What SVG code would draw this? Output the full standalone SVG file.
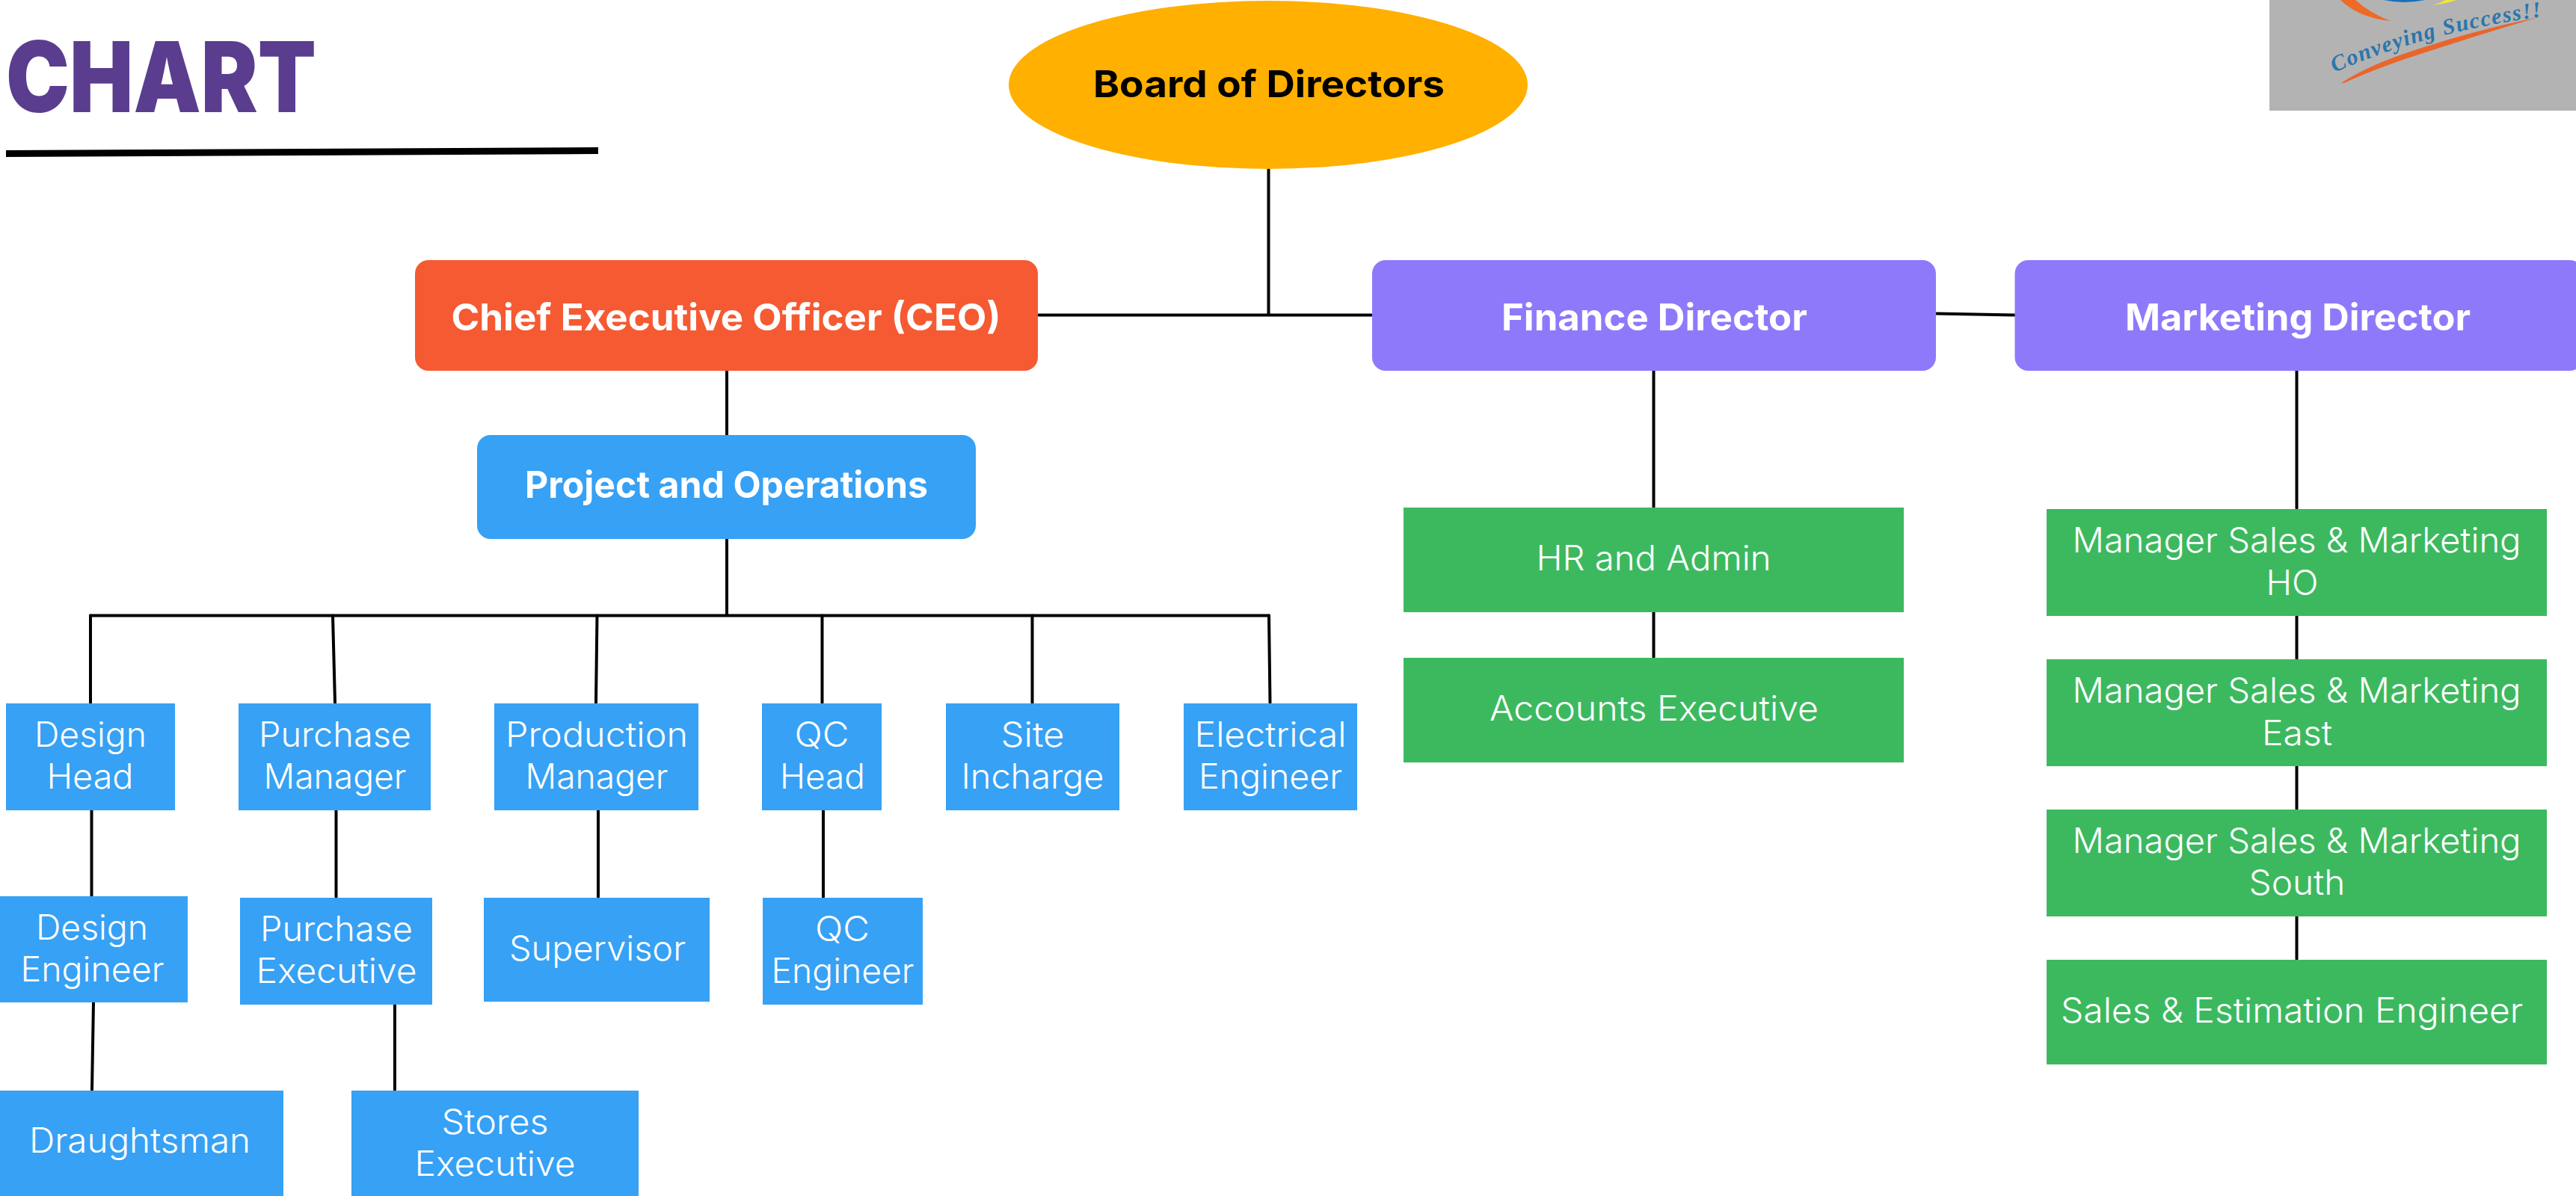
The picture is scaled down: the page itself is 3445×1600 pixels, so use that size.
<svg xmlns="http://www.w3.org/2000/svg" width="3445" height="1600" viewBox="0 0 3445 1600">
<defs>
<style>
text{font-family:"Inter","Noto Sans","Liberation Sans",sans-serif;text-anchor:middle;fill:#fff;font-size:46px;font-weight:300}
text.b{font-size:50px;font-weight:700}
text.d{fill:#000}
.blue{fill:#36a1f5}.green{fill:#3cb95f}.purple{fill:#8f79fb}.orange{fill:#f55a32}
#connectors line{stroke:#000;stroke-width:4;stroke-linecap:round}
</style>
</defs>
<rect width="3445" height="1600" fill="#fff"/>
<g id="title">
<text x="215.500" y="150" textLength="415" lengthAdjust="spacingAndGlyphs" style="font-weight:900;font-size:131px;fill:#5a3d8f">CHART</text>
<path d="M8 201 L800 197 L800 206 L8 210 Z" fill="#000"/>
</g>
<g id="logo">
<rect x="3035" y="0" width="410" height="148" fill="#b3b3b3"/>
<path d="M3130 0 Q3155 24 3197 28 Q3170 18 3150 0Z" fill="#ee6a26"/>
<path d="M3188 0 Q3215 6 3243 0Z" fill="#1a6fb8"/>
<path d="M3252 7 Q3272 5 3285 0 L3270 0 Q3262 5 3252 7Z" fill="#f2e53a"/>
<path d="M3131 111 Q3170 85 3245 62 Q3320 38 3395 23 Q3320 45 3250 68 Q3180 90 3135 111Z" fill="#e9652b"/>
<path id="tag" d="M3122 97 Q3240 44 3400 22" fill="none"/>
<text style="font-family:'Liberation Serif',serif;font-style:italic;font-weight:700;font-size:30px;letter-spacing:1.600px;fill:#2a76ad;text-anchor:start"><textPath href="#tag">Conveying Success!!</textPath></text>
</g>
<g id="connectors">
<line x1="1696.500" y1="226" x2="1696.500" y2="421"/>
<line x1="1389" y1="421.500" x2="1834" y2="421.500"/>
<line x1="2590" y1="419.500" x2="2694" y2="421.500"/>
<line x1="972" y1="496" x2="972" y2="582"/>
<line x1="972" y1="721" x2="972" y2="823"/>
<line x1="121" y1="823.500" x2="1697" y2="823.500"/>
<line x1="121" y1="823.500" x2="121" y2="940"/>
<line x1="445" y1="823.500" x2="448" y2="940"/>
<line x1="798.500" y1="823.500" x2="797" y2="940"/>
<line x1="1099.500" y1="823.500" x2="1099.500" y2="940"/>
<line x1="1380.500" y1="823.500" x2="1380.500" y2="940"/>
<line x1="1697" y1="823.500" x2="1698.500" y2="940"/>
<line x1="122.500" y1="1084" x2="122.500" y2="1199"/>
<line x1="449.500" y1="1084" x2="449.500" y2="1200"/>
<line x1="800" y1="1084" x2="800" y2="1200"/>
<line x1="1101" y1="1084" x2="1101" y2="1200"/>
<line x1="125" y1="1341" x2="123" y2="1458"/>
<line x1="528" y1="1342" x2="528" y2="1458"/>
<line x1="2211.500" y1="496" x2="2211.500" y2="678"/>
<line x1="2211.500" y1="819" x2="2211.500" y2="879"/>
<line x1="3071.500" y1="496" x2="3071.500" y2="680"/>
<line x1="3071.500" y1="824" x2="3071.500" y2="881"/>
<line x1="3071.500" y1="1025" x2="3071.500" y2="1082"/>
<line x1="3071.500" y1="1226" x2="3071.500" y2="1283"/>
</g>
<g id="board"><ellipse cx="1696" cy="113.500" rx="347" ry="112.500" fill="#ffb000"/><text class="b d" x="1697" y="129.500" textLength="470" lengthAdjust="spacingAndGlyphs">Board of Directors</text></g>
<g id="ceo"><rect class="orange" x="555" y="348" width="833" height="148" rx="18"/><text class="b" x="971" y="441.500" textLength="735" lengthAdjust="spacingAndGlyphs">Chief Executive Officer (CEO)</text></g>
<g id="finance"><rect class="purple" x="1835" y="348" width="754" height="148" rx="18"/><text class="b" x="2212.500" y="441.500" textLength="409" lengthAdjust="spacingAndGlyphs">Finance Director</text></g>
<g id="marketing"><rect class="purple" x="2694.500" y="348" width="760" height="148" rx="18"/><text class="b" x="3073" y="441.500" textLength="462" lengthAdjust="spacingAndGlyphs">Marketing Director</text></g>
<g id="project"><rect class="blue" x="638" y="582" width="667" height="139" rx="18"/><text class="b" x="971.500" y="665.500" textLength="539" lengthAdjust="spacingAndGlyphs">Project and Operations</text></g>
<g id="design-head"><rect class="blue" x="8" y="941" width="226" height="143"/><text x="121" y="999" textLength="150" lengthAdjust="spacingAndGlyphs">Design</text><text x="120.500" y="1055" textLength="116" lengthAdjust="spacingAndGlyphs">Head</text></g>
<g id="purchase-manager"><rect class="blue" x="319" y="941" width="257" height="143"/><text x="448" y="999" textLength="204" lengthAdjust="spacingAndGlyphs">Purchase</text><text x="448" y="1055" textLength="191" lengthAdjust="spacingAndGlyphs">Manager</text></g>
<g id="production-manager"><rect class="blue" x="661" y="941" width="273" height="143"/><text x="798" y="999" textLength="244" lengthAdjust="spacingAndGlyphs">Production</text><text x="798" y="1055" textLength="191" lengthAdjust="spacingAndGlyphs">Manager</text></g>
<g id="qc-head"><rect class="blue" x="1019" y="941" width="160" height="143"/><text x="1099" y="999" textLength="73" lengthAdjust="spacingAndGlyphs">QC</text><text x="1100" y="1055" textLength="114" lengthAdjust="spacingAndGlyphs">Head</text></g>
<g id="site-incharge"><rect class="blue" x="1265" y="941" width="232" height="143"/><text x="1381" y="999" textLength="85" lengthAdjust="spacingAndGlyphs">Site</text><text x="1381" y="1055" textLength="191" lengthAdjust="spacingAndGlyphs">Incharge</text></g>
<g id="electrical-engineer"><rect class="blue" x="1583" y="941" width="232" height="143"/><text x="1699" y="999" textLength="203" lengthAdjust="spacingAndGlyphs">Electrical</text><text x="1699" y="1055" textLength="192" lengthAdjust="spacingAndGlyphs">Engineer</text></g>
<g id="design-engineer"><rect class="blue" x="0" y="1199" width="251" height="142"/><text x="123" y="1257" textLength="150" lengthAdjust="spacingAndGlyphs">Design</text><text x="123.500" y="1313" textLength="192" lengthAdjust="spacingAndGlyphs">Engineer</text></g>
<g id="purchase-executive"><rect class="blue" x="321" y="1201" width="257" height="143"/><text x="450" y="1259" textLength="204" lengthAdjust="spacingAndGlyphs">Purchase</text><text x="450" y="1315" textLength="215" lengthAdjust="spacingAndGlyphs">Executive</text></g>
<g id="supervisor"><rect class="blue" x="647" y="1201" width="302" height="139"/><text x="799" y="1285" textLength="236" lengthAdjust="spacingAndGlyphs">Supervisor</text></g>
<g id="qc-engineer"><rect class="blue" x="1020" y="1201" width="214" height="143"/><text x="1126.500" y="1259" textLength="73" lengthAdjust="spacingAndGlyphs">QC</text><text x="1127" y="1315" textLength="191" lengthAdjust="spacingAndGlyphs">Engineer</text></g>
<g id="draughtsman"><rect class="blue" x="0" y="1459" width="379" height="141"/><text x="187" y="1542" textLength="296" lengthAdjust="spacingAndGlyphs">Draughtsman</text></g>
<g id="stores-executive"><rect class="blue" x="470" y="1459" width="384" height="141"/><text x="662" y="1517" textLength="143" lengthAdjust="spacingAndGlyphs">Stores</text><text x="662" y="1573" textLength="215" lengthAdjust="spacingAndGlyphs">Executive</text></g>
<g id="hr-admin"><rect class="green" x="1877" y="679" width="669" height="140"/><text x="2211.500" y="763" textLength="314" lengthAdjust="spacingAndGlyphs">HR and Admin</text></g>
<g id="accounts-executive"><rect class="green" x="1877" y="880" width="669" height="140"/><text x="2212" y="964" textLength="440" lengthAdjust="spacingAndGlyphs">Accounts Executive</text></g>
<g id="msm-ho"><rect class="green" x="2737" y="681" width="669" height="143"/><text x="3071.500" y="739" textLength="600" lengthAdjust="spacingAndGlyphs">Manager Sales &amp; Marketing</text><text x="3065.500" y="795.500" textLength="70" lengthAdjust="spacingAndGlyphs">HO</text></g>
<g id="msm-east"><rect class="green" x="2737" y="882" width="669" height="143"/><text x="3071.500" y="940" textLength="600" lengthAdjust="spacingAndGlyphs">Manager Sales &amp; Marketing</text><text x="3072" y="996.500" textLength="94" lengthAdjust="spacingAndGlyphs">East</text></g>
<g id="msm-south"><rect class="green" x="2737" y="1083" width="669" height="143"/><text x="3071.500" y="1141" textLength="600" lengthAdjust="spacingAndGlyphs">Manager Sales &amp; Marketing</text><text x="3072" y="1197" textLength="129" lengthAdjust="spacingAndGlyphs">South</text></g>
<g id="sales-estimation"><rect class="green" x="2737" y="1284" width="669" height="140"/><text x="3065" y="1368" textLength="618" lengthAdjust="spacingAndGlyphs">Sales &amp; Estimation Engineer</text></g>
</svg>
